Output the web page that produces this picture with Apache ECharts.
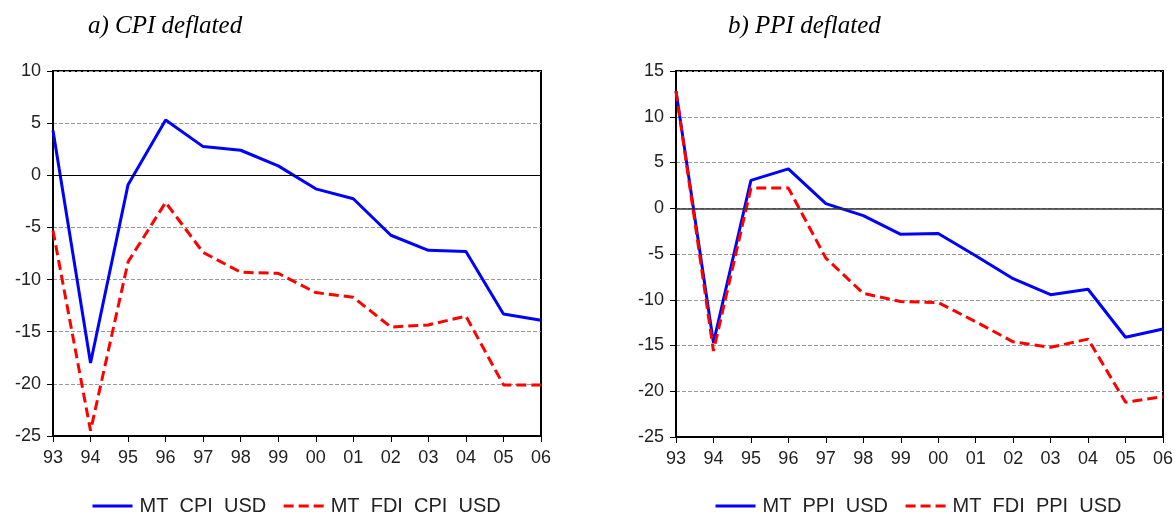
<!DOCTYPE html>
<html>
<head>
<meta charset="utf-8">
<script src="https://cdn.jsdelivr.net/npm/echarts@6/dist/echarts.min.js"></script>
<style>
html,body{margin:0;padding:0;background:#fff;}
#c{width:1176px;height:514px;}
</style>
</head>
<body>
<div id="c"></div>
<script>
var years = ['93','94','95','96','97','98','99','00','01','02','03','04','05','06'];
var cpiMT  = [4.3,-18.0,-0.9,5.3,2.75,2.4,0.9,-1.3,-2.25,-5.75,-7.2,-7.3,-13.3,-13.9];
var cpiFDI = [-5.3,-24.5,-8.3,-2.6,-7.4,-9.3,-9.4,-11.25,-11.7,-14.55,-14.35,-13.5,-20.1,-20.1];
var ppiMT  = [12.8,-14.7,3.05,4.3,0.5,-0.8,-2.85,-2.75,-5.2,-7.7,-9.45,-8.85,-14.1,-13.2];
var ppiFDI = [12.8,-15.6,2.2,2.2,-5.45,-9.3,-10.2,-10.3,-12.4,-14.6,-15.2,-14.3,-21.2,-20.6];
var namesA = ['MT  CPI  USD','MT  FDI  CPI  USD'];
var namesB = ['MT  PPI  USD','MT  FDI  PPI  USD'];
var titles = ['a) CPI deflated','b) PPI deflated'];

var chart = echarts.init(document.getElementById('c'));
var sans = '"Liberation Sans", Arial, sans-serif';
var serif = '"Liberation Serif", "Times New Roman", serif';
function xAxis(i){
  return {type:'category', gridIndex:i, data:years, boundaryGap:false,
    axisLine:{onZero:false, lineStyle:{color:'#000',width:2}},
    axisTick:{show:true, inside:false, length:6, lineStyle:{color:'#000',width:1}},
    axisLabel:{color:'#222', fontSize:18, fontFamily:sans, margin:13},
    splitLine:{show:false}};
}
function yAxis(i,max){
  return {type:'value', gridIndex:i, min:-25, max:max, interval:5,
    axisLine:{show:true, onZero:false, lineStyle:{color:'#000',width:2}},
    axisTick:{show:true, inside:false, length:6, lineStyle:{color:'#000',width:1}},
    axisLabel:{color:'#222', fontSize:18, fontFamily:sans, margin:12},
    splitLine:{show:true, lineStyle:{color:'#999', width:1, type:[4,2]}}};
}
function zeroLine(c,w){
  return {silent:true, symbol:'none', label:{show:false},
    lineStyle:{color:c, width:w, type:'solid'}, data:[{yAxis:0}], animation:false};
}
function ser(name, data, i, color, dashed, mark){
  var s = {name:name, type:'line', xAxisIndex:i, yAxisIndex:i, data:data,
    symbol:'none', showSymbol:false, animation:false,
    lineStyle:{color:color, width:3, type: dashed ? [10,5] : 'solid'},
    itemStyle:{color:color}};
  if (mark) s.markLine = mark;
  return s;
}
var legendCommon = {itemWidth:40, itemHeight:20, itemGap:16, padding:0,
  itemStyle:{opacity:0},
  lineStyle:{width:3},
  textStyle:{fontFamily:sans, fontSize:20, color:'#222', padding:[0,0,0,2]}};
chart.setOption({
  backgroundColor:'#fff',
  animation:false,
  title:[
    {text:titles[0], left:83, top:9, textStyle:{fontFamily:serif, fontStyle:'italic', fontWeight:'normal', fontSize:25, color:'#000'}},
    {text:titles[1], left:723, top:9, textStyle:{fontFamily:serif, fontStyle:'italic', fontWeight:'normal', fontSize:25, color:'#000'}}
  ],
  legend:[
    Object.assign({data:namesA, left:91, top:496}, legendCommon),
    Object.assign({data:namesB, left:714, top:496}, legendCommon)
  ],
  grid:[
    {left:53, right:635, top:71, bottom:78, show:true, borderColor:'#000', borderWidth:2, backgroundColor:'transparent'},
    {left:676, right:12, top:71, bottom:77, show:true, borderColor:'#000', borderWidth:2, backgroundColor:'transparent'}
  ],
  xAxis:[xAxis(0), xAxis(1)],
  yAxis:[yAxis(0,10), yAxis(1,15)],
  series:[
    ser(namesA[0], cpiMT, 0, '#0000ff', false, zeroLine('#000',1.2)),
    ser(namesA[1], cpiFDI, 0, '#ff0000', true, null),
    ser(namesB[0], ppiMT, 1, '#0000ff', false, zeroLine('#333',1.5)),
    ser(namesB[1], ppiFDI, 1, '#ff0000', true, null)
  ]
});
</script>
</body>
</html>
